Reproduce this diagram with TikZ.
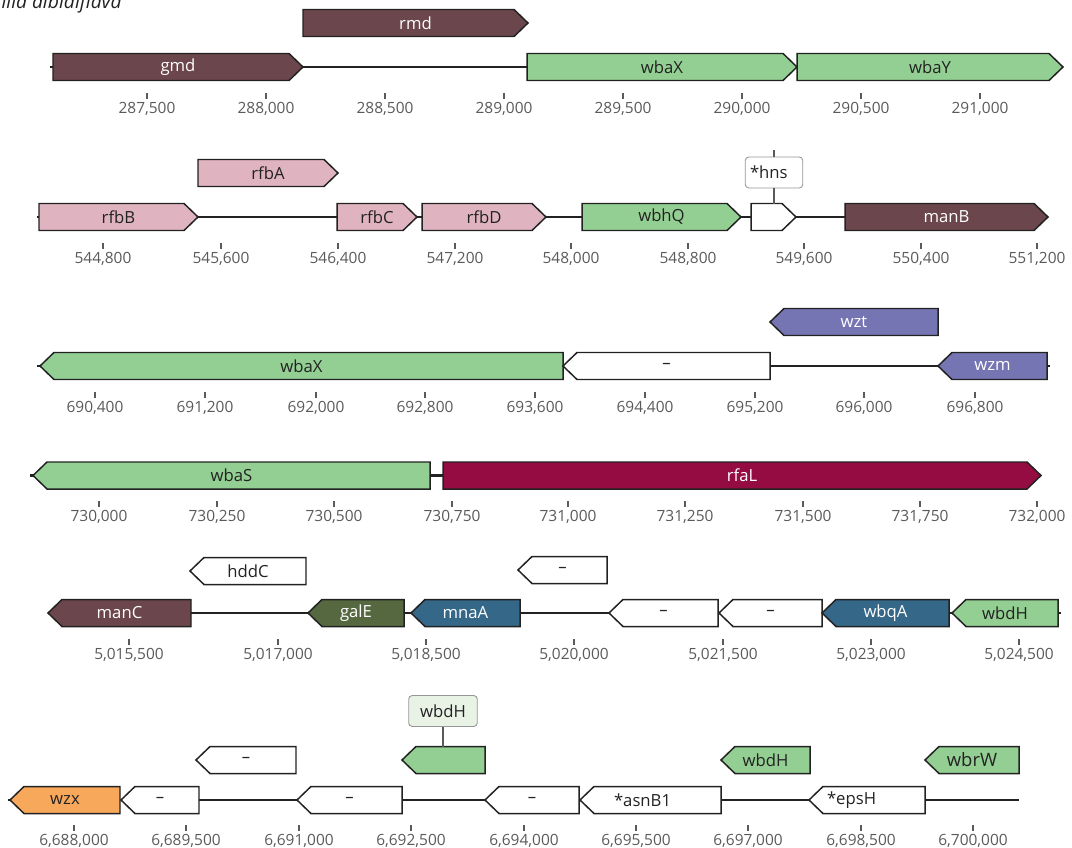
\documentclass[tikz,border=0pt]{standalone}
\usepackage{fontspec}
\setmainfont{Open Sans}
\usepackage{tikz}
\definecolor{genebrn}{RGB}{107,70,76}
\definecolor{genegrn}{RGB}{147,206,146}
\definecolor{genepnk}{RGB}{223,179,192}
\definecolor{geneprp}{RGB}{117,117,180}
\definecolor{genecrm}{RGB}{148,12,66}
\definecolor{geneolv}{RGB}{85,104,64}
\definecolor{geneteal}{RGB}{52,103,136}
\definecolor{geneorg}{RGB}{247,168,90}
\definecolor{labgrn}{RGB}{232,243,230}
\definecolor{labgray}{RGB}{150,150,150}
\definecolor{darkline}{RGB}{34,34,34}
\definecolor{axisgray}{RGB}{90,90,90}

% forward gene: name, start, tip, y, style, text
\newcommand{\fgene}[6]{%
  \filldraw[genebody,#5] (#2,#4-13.5) -- (#3-14,#4-13.5) -- (#3,#4)
    -- (#3-14,#4+13.5) -- (#2,#4+13.5) -- cycle;
  \node[genetext,#5,fill=none,minimum width={(#3-#2)*0.02cm}]
    (#1) at ({(#2+#3)/2},#4) {#6};}
% reverse gene: name, tip, end, y, style, text
\newcommand{\rgene}[6]{%
  \filldraw[genebody,#5] (#2,#4) -- (#2+14,#4-13.5) -- (#3,#4-13.5)
    -- (#3,#4+13.5) -- (#2+14,#4+13.5) -- cycle;
  \node[genetext,#5,fill=none,minimum width={(#3-#2)*0.02cm}]
    (#1) at ({(#2+#3)/2},#4) {#6};}

\begin{document}
\begin{tikzpicture}[x=0.02cm,y=-0.02cm,
    genebody/.style={draw=darkline,line width=0.85pt,line join=miter},
    genetext/.style={inner sep=0pt,outer sep=0pt,draw=none,minimum height=0.54cm,
      font=\fontsize{9.5}{11}\selectfont},
    brn/.style={fill=genebrn,text=white},
    grn/.style={fill=genegrn,text=darkline},
    pnk/.style={fill=genepnk,text=darkline},
    wht/.style={fill=white,text=darkline},
    prp/.style={fill=geneprp,text=white},
    crm/.style={fill=genecrm,text=white},
    olv/.style={fill=geneolv,text=white},
    teal/.style={fill=geneteal,text=white},
    org/.style={fill=geneorg,text=darkline},
    lefttext/.style={text width=#1,align=left},
    backbone/.style={draw=darkline,line width=1.2pt},
    tick/.style={draw=axisgray,line width=0.9pt},
    ticklab/.style={anchor=base,text=axisgray,inner sep=0pt,
      font=\fontsize{8.8}{10}\selectfont},
    labbox/.style={draw=labgray,fill=white,rounded corners=2pt,line width=0.5pt,
      inner sep=0pt,minimum height=0.62cm,text=darkline,
      font=\fontsize{9.5}{11}\selectfont},
    labline/.style={draw=axisgray,line width=0.6pt}]
\useasboundingbox (0,0) rectangle (1072,848);

\node[anchor=base east,text=darkline,inner sep=0pt,
  font=\fontsize{11}{13}\selectfont\itshape] (title) at (122,9) {silla albidiflava};

% row 1
\coordinate (r1a) at (50,67);
\fgene{gmd}{53}{303}{67}{brn}{gmd}
\fgene{rmd}{303}{528}{23}{brn}{rmd}
\fgene{wbaXa}{527}{797}{67}{grn}{wbaX}
\fgene{wbaY}{797}{1063}{67}{grn}{wbaY}
\draw[backbone] (r1a) -- (gmd.west);
\draw[backbone] (gmd.east) -- (wbaXa.west);
\foreach \x/\t in {147/{287,500},266/{288,000},385/{288,500},504/{289,000},
    623/{289,500},742/{290,000},861/{290,500},980/{291,000}}{
  \draw[tick] (\x,93) -- (\x,99);
  \node[ticklab] (r1-\x) at (\x,113.5) {\t};}

% row 2
\coordinate (r2a) at (37,217);
\fgene{rfbB}{39}{198}{217}{pnk}{rfbB}
\fgene{rfbA}{198}{338}{173}{pnk}{rfbA}
\fgene{rfbC}{337}{417}{217}{pnk}{rfbC}
\fgene{rfbD}{422}{546}{217}{pnk}{rfbD}
\fgene{wbhQ}{582}{741}{217}{grn}{wbhQ}
\fgene{hns}{751}{796}{217}{wht}{}
\fgene{manB}{845}{1048}{217}{brn}{manB}
\draw[backbone] (r2a) -- (rfbB.west);
\draw[backbone] (rfbB.east) -- (rfbC.west);
\draw[backbone] (rfbC.east) -- (rfbD.west);
\draw[backbone] (rfbD.east) -- (wbhQ.west);
\draw[backbone] (wbhQ.east) -- (hns.west);
\draw[backbone] (hns.east) -- (manB.west);
\node[labbox,minimum width=1.15cm,text width=0.96cm,align=left] (hnslab)
  at (774,172.5) {*hns};
\draw[labline] (hnslab.south) -- (hnslab.south |- hns.north);
\draw[labline] (hnslab.north) -- ++(0,-7);
\foreach \x/\t in {103/{544,800},221/{545,600},338/{546,400},455/{547,200},
    571/{548,000},688/{548,800},804/{549,600},921/{550,400},1037/{551,200}}{
  \draw[tick] (\x,243) -- (\x,249);
  \node[ticklab] (r2-\x) at (\x,263.5) {\t};}

% row 3
\coordinate (r3a) at (37,366);
\coordinate (r3b) at (1050,366);
\rgene{wbaXb}{40}{563}{366}{grn}{wbaX}
\rgene{hypa}{563}{770}{366}{wht}{–}
\rgene{wzt}{770}{938}{322}{prp}{wzt}
\rgene{wzm}{938}{1047}{366}{prp}{wzm}
\draw[backbone] (r3a) -- (wbaXb.west);
\draw[backbone] (hypa.east) -- (wzm.west);
\draw[backbone] (wzm.east) -- (r3b);
\foreach \x/\t in {95/{690,400},205/{691,200},316/{692,000},425/{692,800},
    535/{693,600},645/{694,400},755/{695,200},864/{696,000},975/{696,800}}{
  \draw[tick] (\x,392) -- (\x,398);
  \node[ticklab] (r3-\x) at (\x,412.5) {\t};}

% row 4
\coordinate (r4a) at (30,475.5);
\rgene{wbaS}{33}{430}{475.5}{grn}{wbaS}
\fgene{rfaL}{443}{1041}{475.5}{crm}{rfaL}
\draw[backbone] (r4a) -- (wbaS.west);
\draw[backbone] (wbaS.east) -- (rfaL.west);
\foreach \x/\t in {99/{730,000},217/{730,250},334/{730,500},452/{730,750},
    568/{731,000},685/{731,250},803/{731,500},920/{731,750},1037/{732,000}}{
  \draw[tick] (\x,501) -- (\x,507);
  \node[ticklab] (r4-\x) at (\x,521.5) {\t};}

% row 5
\coordinate (r5b) at (1061,613);
\rgene{manC}{48}{191}{613}{brn}{manC}
\rgene{hddC}{190}{306}{571}{wht}{hddC}
\rgene{galE}{308}{404}{613}{olv}{galE}
\rgene{mnaA}{411}{520}{613}{teal}{mnaA}
\rgene{hypb}{518}{607}{570}{wht}{–}
\rgene{hypc}{609}{718}{613}{wht}{–}
\rgene{hypd}{719}{822}{613}{wht}{–}
\rgene{wbqA}{822}{949}{613}{teal}{wbqA}
\rgene{wbdHa}{952}{1058}{613}{grn}{wbdH}
\draw[backbone] (manC.east) -- (galE.west);
\draw[backbone] (galE.east) -- (mnaA.west);
\draw[backbone] (mnaA.east) -- (hypc.west);
\draw[backbone] (hypc.east) -- (hypd.west);
\draw[backbone] (wbqA.east) -- (wbdHa.west);
\draw[backbone] (wbdHa.east) -- (r5b);
\foreach \x/\t in {129/{5,015,500},278/{5,017,000},426/{5,018,500},574/{5,020,000},
    723/{5,021,500},871/{5,023,000},1019/{5,024,500}}{
  \draw[tick] (\x,639) -- (\x,645);
  \node[ticklab] (r5-\x) at (\x,659.5) {\t};}

% row 6
\coordinate (r6a) at (8,800);
\coordinate (r6b) at (1019,800);
\rgene{wzx}{10}{120}{800}{org}{wzx}
\rgene{hype}{196}{296}{760}{wht}{–}
\rgene{wbdHb}{402}{485}{760}{grn}{}
\rgene{wbdHc}{721}{810}{760}{grn}{wbdH}
\rgene{wbrW}{925}{1019}{760}{grn,font=\fontsize{10.5}{12}\selectfont}{wbrW}
\rgene{hypf}{121}{199}{800}{wht}{–}
\rgene{hypg}{297}{402}{800}{wht}{–}
\rgene{hyph}{485}{579}{800}{wht}{–}
\rgene{asnB}{580}{721}{800}{wht,lefttext=1.46cm}{*asnB1}
\rgene{epsH}{809}{925}{800}{wht,lefttext=1.6cm}{*epsH}
\draw[backbone] (r6a) -- (wzx.west);
\draw[backbone] (hypf.east) -- (hypg.west);
\draw[backbone] (hypg.east) -- (hyph.west);
\draw[backbone] (asnB.east) -- (epsH.west);
\draw[backbone] (epsH.east) -- (r6b);
\node[labbox,fill=labgrn,minimum width=1.37cm] (wbdHlab) at (443,711) {wbdH};
\draw[labline] (wbdHlab.south) -- (wbdHlab.south |- wbdHb.north);
\foreach \x/\t in {74/{6,688,000},186/{6,689,500},299/{6,691,000},411/{6,692,500},
    524/{6,694,000},636/{6,695,500},748/{6,697,000},861/{6,698,500},973/{6,700,000}}{
  \draw[tick] (\x,825) -- (\x,831);
  \node[ticklab] (r6-\x) at (\x,845) {\t};}
\end{tikzpicture}
\end{document}
